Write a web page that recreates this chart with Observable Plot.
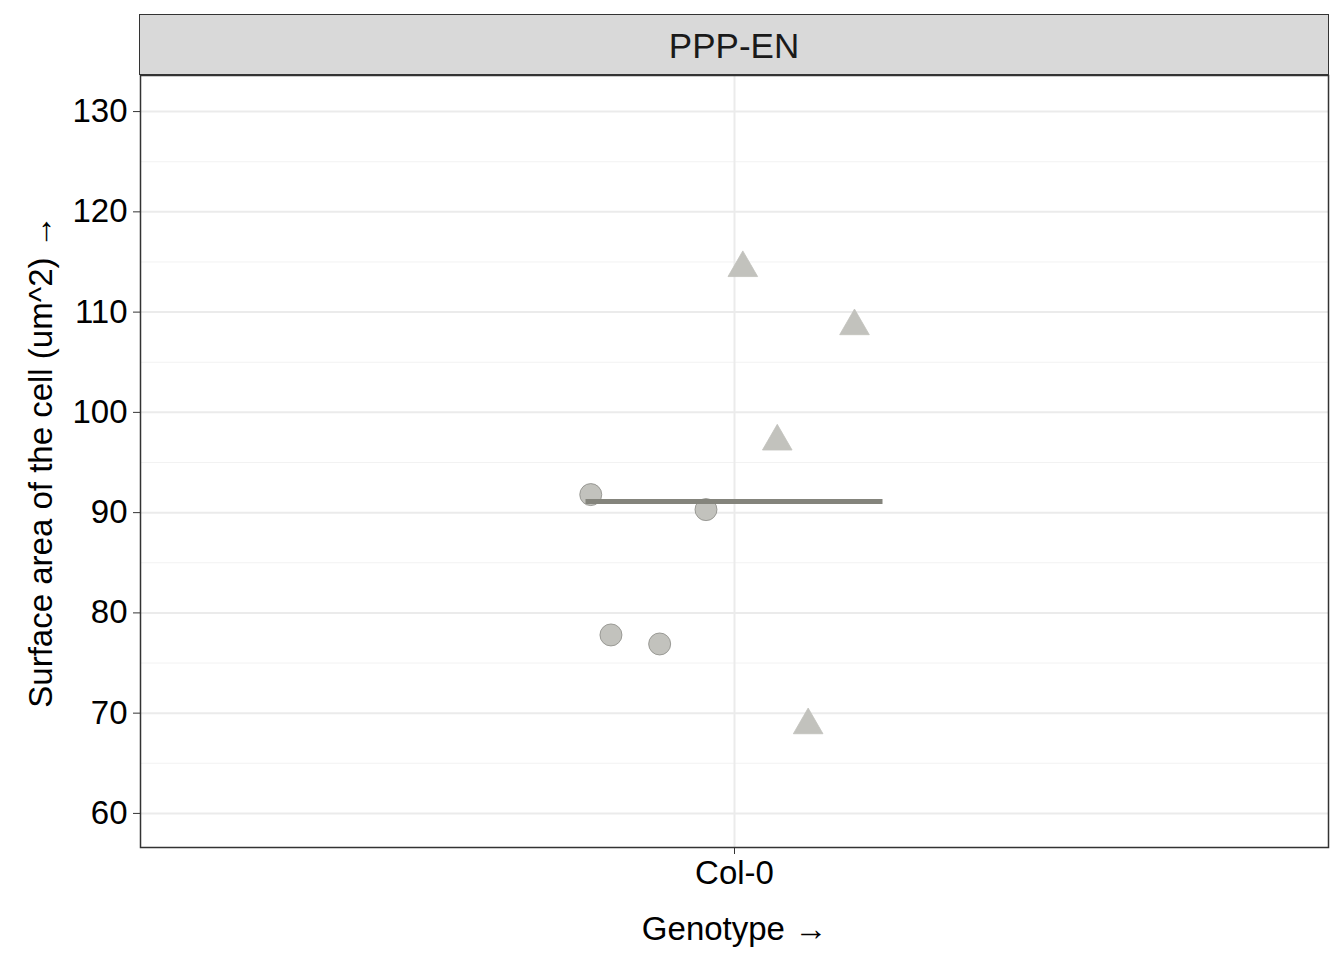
<!DOCTYPE html>
<html>
<head>
<meta charset="utf-8">
<script src="https://cdn.jsdelivr.net/npm/d3@7"></script>
<script src="https://cdn.jsdelivr.net/npm/@observablehq/plot@0.6"></script>
<style>
  body { margin: 0; background: #fff; font-family: Arial, "Liberation Sans", sans-serif; }
  #wrap { position: relative; width: 1344px; }
  #strip {
    position: absolute; left: 139px; top: 14px; width: 1188px; height: 59px;
    background: #d9d9d9; border: 1.5px solid #333; text-align: center;
    font-size: 35px; line-height: 62px; color: #1a1a1a;
  }
</style>
</head>
<body>
<div id="wrap"><div id="strip">PPP-EN</div><div id="vis"></div></div>
<script>
const xPos = [0.879, 0.896, 0.937, 0.976, 1.007, 1.101, 1.036, 1.062]
const area = [91.8, 77.8, 76.9, 90.3, 114.4, 108.6, 97.1, 68.8]
const shape = ['circle', 'circle', 'circle', 'circle', 'triangle', 'triangle', 'triangle', 'triangle']
const meanVal = 91.1
const data = xPos.map((x, i) => ({x, y: area[i], s: shape[i]}))
const major = d3.range(60, 131, 10)
const minor = d3.range(65, 131, 10)

const chart = Plot.plot({
  width: 1344,
  height: 960,
  marginTop: 75,
  marginLeft: 140,
  marginRight: 16,
  marginBottom: 113,
  x: {domain: [0.5, 1.5], ticks: [1], tickFormat: () => 'Col-0', label: 'Genotype', labelAnchor: 'center', labelOffset: 92, tickSize: 7, tickPadding: 6},
  y: {domain: [56.6, 133.6], ticks: major, label: 'Surface area of the cell (um^2)', labelAnchor: 'center', labelOffset: 112, tickSize: 7, tickPadding: 6},
  style: {fontSize: '33px', fontFamily: 'Arial, "Liberation Sans", sans-serif', color: '#1a1a1a'},
  marks: [
    Plot.ruleY(minor, {stroke: '#f2f2f2', strokeWidth: 1}),
    Plot.ruleY(major, {stroke: '#ebebeb', strokeWidth: 2}),
    Plot.ruleX([1], {stroke: '#ebebeb', strokeWidth: 2}),
    Plot.dot(data, {x: 'x', y: 'y', symbol: 's', r: 11, fill: '#c2c2bd', stroke: d => d.s === 'circle' ? '#8a8a85' : '#c2c2bd', strokeWidth: 0.8}),
    Plot.ruleY([meanVal], {x1: 0.875, x2: 1.125, stroke: '#84847c', strokeWidth: 5}),
    Plot.frame({stroke: '#333', strokeWidth: 1.5}),
    Plot.axisX({ticks: [1], tickFormat: () => 'Col-0', label: 'Genotype', labelAnchor: 'center', labelOffset: 92, tickSize: 7, tickPadding: 6, color: '#4d4d4d', stroke: '#333'}),
    Plot.axisY({ticks: major, label: 'Surface area of the cell (um^2)', labelAnchor: 'center', labelOffset: 112, tickSize: 7, tickPadding: 6, color: '#4d4d4d', stroke: '#333'})
  ]
})
d3.select(chart).selectAll('[aria-label$="label"] text').attr('fill', '#000')
d3.select('#vis').append(() => chart)
</script>
</body>
</html>
